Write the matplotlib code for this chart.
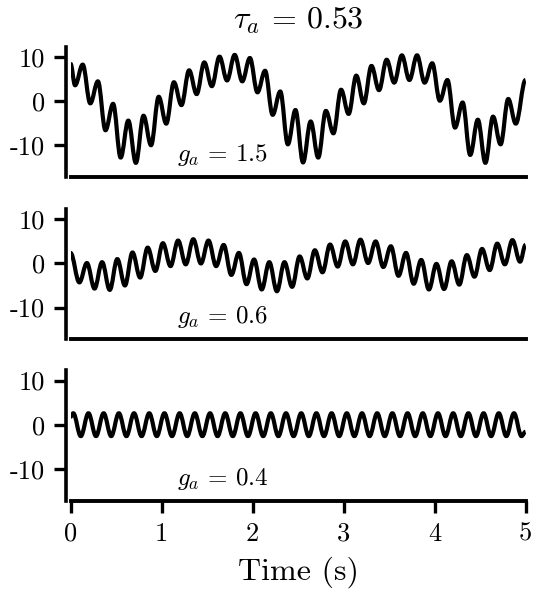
import numpy as np
import matplotlib
matplotlib.use('Agg')
import matplotlib.pyplot as plt
from matplotlib.path import Path
from matplotlib.patches import PathPatch

plt.rcParams['font.family'] = 'cmr10'
plt.rcParams['mathtext.fontset'] = 'cm'
plt.rcParams['axes.unicode_minus'] = False

period = 0.167

# g_a = 1.5
top_start, top_end = 8.5, 4.8
top_peak_t0, top_trough_t0 = 0.134, 0.05
top_peaks = [8.3, 4.5, -0.6, -4.4, -3.3, 1.0, 4.3, 7.0, 8.8, 10.1,
             10.5, 9.8, 6.9, 2.2, -2.0, -4.6, -2.2, 2.6, 5.8, 8.0,
             9.4, 10.4, 10.4, 8.6, 4.8, -0.3, -4.2, -3.5, 0.5]
top_troughs = [3.6, -0.5, -6.6, -12.8, -14.0, -10.0, -5.1, -0.9, 1.6, 3.4,
               4.7, 4.5, 2.0, -3.1, -9.8, -13.9, -12.8, -7.3, -2.9, -0.5,
               2.5, 4.2, 4.8, 4.2, 0.1, -6.0, -12.2, -14.0, -9.8, -5.1]

# g_a = 0.6
mid_start, mid_end = 2.4, 4.2
mid_peak_t0, mid_trough_t0 = 0.18, 0.097
mid_peaks = [0.1, 0.3, 1.0, 2.5, 3.6, 4.6, 5.2, 5.5, 5.2,
             4.2, 2.4, 0.9, 0.3, 0.3, 1.6, 3.0, 4.3, 5.0, 5.4,
             5.0, 3.9, 2.4, 0.8, -0.1, 0.5, 1.9, 3.3, 4.5, 5.3]
mid_troughs = [-4.3, -5.7, -6.0, -5.0, -3.2, -1.7, -0.6, -0.2, 0.0, -0.6,
               -2.6, -4.7, -5.9, -6.3, -5.3, -3.4, -2.0, -0.7, -0.2, 0.1,
               -0.8, -2.8, -4.6, -5.9, -5.8, -4.8, -3.0, -1.5, -0.2, 0.4]

# g_a = 0.4
bot_start, bot_end = 1.8, -1.6
bot_peak_t0, bot_trough_t0 = 0.03, 0.113
bot_peaks = [2.6, 2.6, 2.6, 2.6, 2.6, 2.6, 2.6, 2.6, 2.6, 2.6,
             2.6, 2.6, 2.6, 2.6, 2.6, 2.6, 2.6, 2.6, 2.6, 2.6,
             2.6, 2.6, 2.6, 2.6, 2.6, 2.6, 2.6, 2.6, 2.6, 2.6]
bot_troughs = [-2.6, -2.6, -2.6, -2.6, -2.6, -2.6, -2.6, -2.6, -2.6, -2.6,
               -2.6, -2.6, -2.6, -2.6, -2.6, -2.6, -2.6, -2.6, -2.6, -2.6,
               -2.6, -2.6, -2.6, -2.6, -2.6, -2.6, -2.6, -2.6, -2.6, -2.6]

labels = [r'$g_a\,=\,1.5$', r'$g_a\,=\,0.6$', r'$g_a\,=\,0.4$']
x_ticks = [0, 1, 2, 3, 4, 5]
y_ticks = [-10, 0, 10]
y_ticklabels = ['-10', '0', '10']


def build_trace(y_start, peak_t0, peaks, trough_t0, troughs, y_end):
    t_pk = peak_t0 + period * np.arange(len(peaks))
    t_tr = trough_t0 + period * np.arange(len(troughs))
    t = np.concatenate([[0.0], t_pk, t_tr, [5.0]])
    y = np.concatenate([[y_start], peaks, troughs, [y_end]])
    order = np.argsort(t)
    return t[order], y[order]


def smooth_path(t, y, k=0.364):
    # cubic bezier between extrema, flat tangents at each extremum
    verts = [(t[0], y[0])]
    codes = [Path.MOVETO]
    for i in range(len(t) - 1):
        dt = t[i + 1] - t[i]
        verts += [(t[i] + k * dt, y[i]), (t[i + 1] - k * dt, y[i + 1]), (t[i + 1], y[i + 1])]
        codes += [Path.CURVE4] * 3
    return Path(verts, codes)


traces = [
    build_trace(top_start, top_peak_t0, top_peaks, top_trough_t0, top_troughs, top_end),
    build_trace(mid_start, mid_peak_t0, mid_peaks, mid_trough_t0, mid_troughs, mid_end),
    build_trace(bot_start, bot_peak_t0, bot_peaks, bot_trough_t0, bot_troughs, bot_end),
]

fig = plt.figure(figsize=(5.4, 6), dpi=100)
bottoms = [0.705, 0.4345, 0.1658]

axes = []
for i, (t, y) in enumerate(traces):
    ax = fig.add_axes([0.1306, bottoms[i], 0.8426, 0.2175])
    ax.add_patch(PathPatch(smooth_path(t, y), facecolor='none', edgecolor='black',
                           lw=3.0, joinstyle='round', capstyle='butt'))
    ax.set_xlim(0, 5)
    ax.set_ylim(-17.2, 12.4)

    ax.spines['top'].set_visible(False)
    ax.spines['right'].set_visible(False)
    ax.spines['left'].set_linewidth(2.6)
    ax.spines['bottom'].set_linewidth(2.8)
    ax.spines['left'].set_position(('outward', 3))

    ax.set_yticks(y_ticks)
    ax.set_yticklabels(y_ticklabels)
    ax.tick_params(axis='y', length=8.3, width=2.4, pad=7, labelsize=19)
    ax.set_xticks(x_ticks)
    ax.tick_params(axis='x', length=8.3, width=2.4, pad=7, labelsize=19)
    if i < 2:
        ax.tick_params(axis='x', bottom=False, labelbottom=False)

    ax.text(1.67, -13.6, labels[i], fontsize=18, ha='center', va='baseline')
    axes.append(ax)

axes[0].set_title(r'$\tau_a\,=\,0.53$', fontsize=23, pad=13)
axes[2].set_xlabel('Time (s)', fontsize=23, labelpad=8)

fig.savefig('out.png', dpi=100)
